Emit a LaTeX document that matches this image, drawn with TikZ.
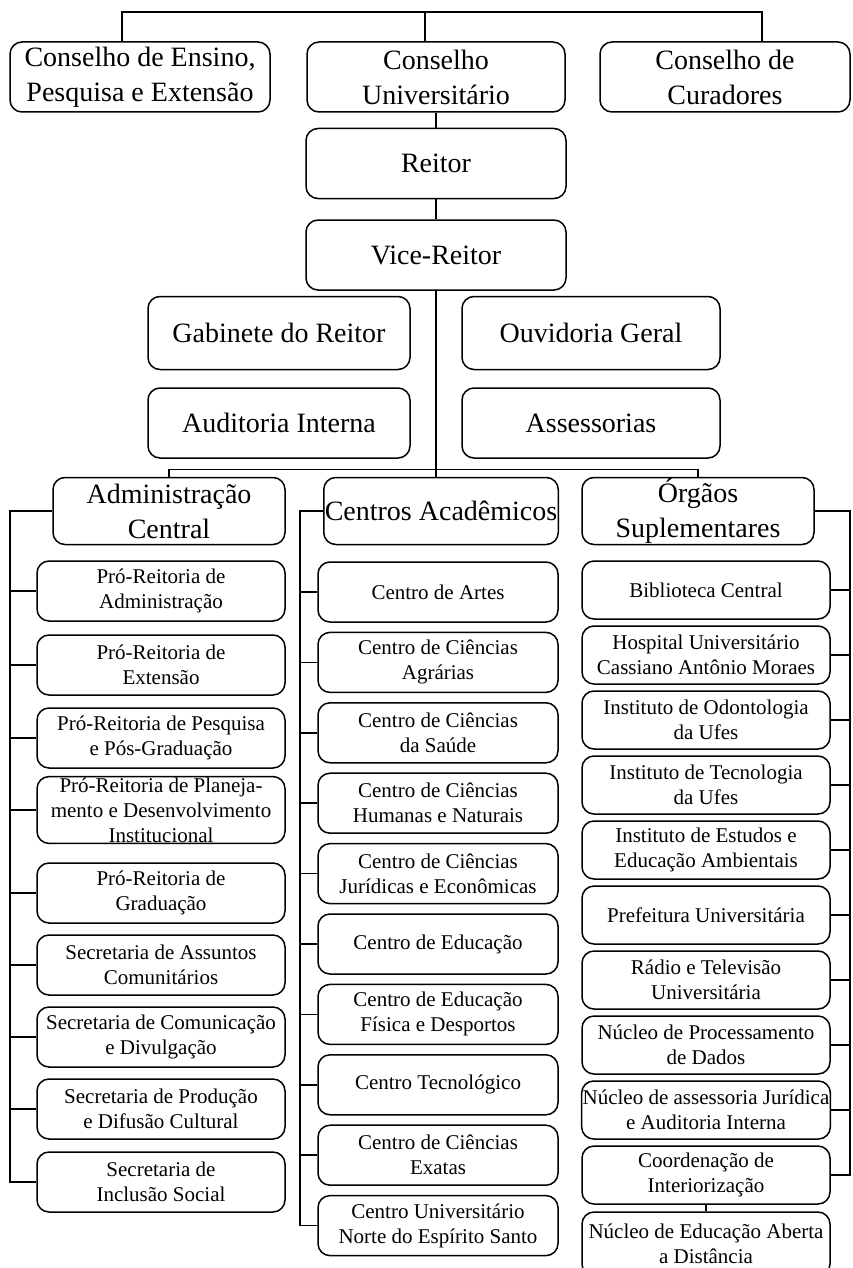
\documentclass[tikz,border=0pt]{standalone}
\usepackage{fontspec}
\setmainfont{Liberation Serif}
\usetikzlibrary{positioning}

\tikzset{
  link/.style={line width=0.75pt},
  box/.style={draw,line width=0.75pt,rounded corners=6pt,align=center,inner sep=0.5pt},
  bigbox/.style={box,font=\fontsize{14}{17.5}\selectfont,minimum height=35pt},
  smallbox/.style={box,font=\fontsize{10.5}{12.5}\selectfont,minimum height=30pt},
}

\begin{document}
\begin{tikzpicture}[x=0.5pt,y=-0.5pt]
  \useasboundingbox (0,0) rectangle (852,1268);
  % conselhos
  \node[bigbox,minimum width=130pt] (cepe) at (140,77) {Conselho de Ensino,\\Pesquisa e Extensão};
  \node[bigbox,minimum width=129pt] (conu) at (436,77) {Conselho\\Universitário};
  \node[bigbox,minimum width=125pt] (cur) at (725,77) {Conselho de\\Curadores};
  \coordinate (top) at (425,12);
  \draw[link] ([xshift=-9pt]cepe.north) |- (top) -| ([xshift=18.5pt]cur.north);
  \draw[link] (top) -- (top |- conu.north);
  % reitoria
  \node[bigbox,minimum width=130pt,below=7.5pt of conu] (reitor) {Reitor};
  \node[bigbox,minimum width=130pt,below=10pt of reitor] (vice) {Vice-Reitor};
  \draw[link] (conu) -- (reitor) -- (vice);
  \node[bigbox,minimum width=131pt,minimum height=36.5pt] (gab) at (279,333) {Gabinete do Reitor};
  \node[bigbox,minimum width=129pt,minimum height=36.5pt] (ouv) at (591,333) {Ouvidoria Geral};
  \node[bigbox,minimum width=131pt] (aud) at (279,423) {Auditoria Interna};
  \node[bigbox,minimum width=129pt] (ass) at (591,423) {Assessorias};
  % segundo nivel
  \node[bigbox,minimum width=116pt,minimum height=33.5pt] (adm) at (169,511) {Administração\\Central};
  \node[bigbox,minimum width=116pt,minimum height=33.5pt] (cen) at (441,511) {Centros Acadêmicos};
  \node[bigbox,minimum width=116pt,minimum height=33.5pt] (org) at (698,511) {Órgãos\\Suplementares};
  \draw[link] (vice.south) -- (vice.south |- cen.north);
  \draw[link] (adm.north) -- ++(0,-7.5) -| (org.north);
  % administracao central
  \coordinate (admbus) at (10,0);
  \foreach \y/\t [count=\i] in {591/{Pró-Reitoria de\\Administração},
      665/{Pró-Reitoria de\\Extensão},
      738/{Pró-Reitoria de Pesquisa\\e Pós-Graduação},
      810/{Pró-Reitoria de Planeja-\\mento e Desenvolvimento\\Institucional},
      893/{Pró-Reitoria de\\Graduação},
      965/{Secretaria de Assuntos\\Comunitários},
      1037/{Secretaria de Comunicação\\e Divulgação},
      1109/{Secretaria de Produção\\e Difusão Cultural},
      1182/{Secretaria de\\Inclusão Social}}
    \node[smallbox,minimum width=124pt] (adm\i) at (161,\y) {\t};
  \draw[link] (adm.west) -| (adm9.west -| admbus) -- (adm9.west);
  \foreach \i in {1,...,8} \draw[link] (adm\i.west) -- (adm\i.west -| admbus);
  % centros academicos
  \coordinate (cenbus) at (300,0);
  \foreach \t [count=\i] in {Centro de Artes,
      {Centro de Ciências\\Agrárias},
      {Centro de Ciências\\da Saúde},
      {Centro de Ciências\\Humanas e Naturais},
      {Centro de Ciências\\Jurídicas e Econômicas},
      Centro de Educação,
      {Centro de Educação\\Física e Desportos},
      Centro Tecnológico,
      {Centro de Ciências\\Exatas},
      {Centro Universitário\\Norte do Espírito Santo}}
    \node[smallbox,minimum width=120pt] (cen\i) at (438,{592+70.4*(\i-1)}) {\t};
  \draw[link] (cen.west) -| (cen10.west -| cenbus) -- (cen10.west);
  \foreach \i in {1,...,9} \draw[link] (cen\i.west) -- (cen\i.west -| cenbus);
  % orgaos suplementares
  \coordinate (orgbus) at (850,0);
  \foreach \t [count=\i] in {Biblioteca Central,
      {Hospital Universitário\\Cassiano Antônio Moraes},
      {Instituto de Odontologia\\da Ufes},
      {Instituto de Tecnologia\\da Ufes},
      {Instituto de Estudos e\\Educação Ambientais},
      Prefeitura Universitária,
      {Rádio e Televisão\\Universitária},
      {Núcleo de Processamento\\de Dados},
      {Núcleo de assessoria Jurídica\\e Auditoria Interna},
      {Coordenação de\\Interiorização}}
    \node[smallbox,minimum width=124pt,minimum height=29pt] (org\i) at (706,{590+65*(\i-1)}) {\t};
  \node[smallbox,minimum width=124pt,minimum height=32pt] (org11) at (706,1244) {Núcleo de Educação Aberta\\a Distância};
  \draw[link] (org.east) -| (org10.east -| orgbus) -- (org10.east);
  \foreach \i in {1,...,9} \draw[link] (org\i.east) -- (org\i.east -| orgbus);
  \draw[link] (org10) -- (org11);
\end{tikzpicture}
\end{document}
